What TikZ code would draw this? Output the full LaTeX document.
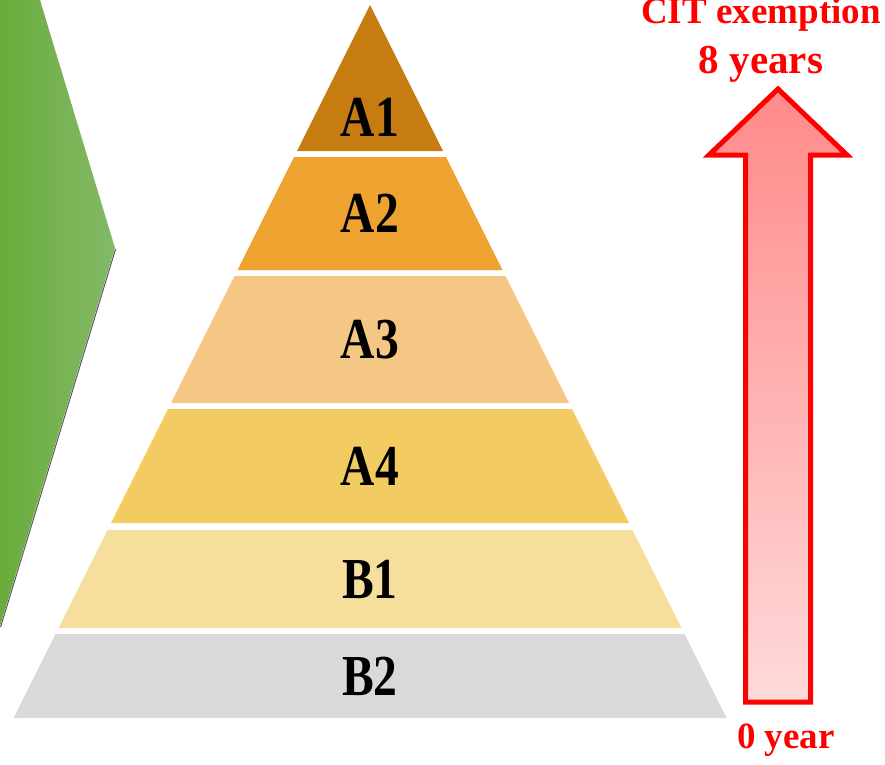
\documentclass[tikz,border=0pt]{standalone}
\usepackage{fontspec}
\setmainfont{Liberation Serif}
\usepackage{tikz}
\usepackage{xcolor}

\begin{document}
\begin{tikzpicture}[x=1pt,y=-1pt,
  layertext/.style={font=\bfseries\fontsize{58}{58}\selectfont,text=black,inner sep=0pt},
  redtext/.style={font=\bfseries\fontsize{#1}{#1}\selectfont,text=red,inner sep=0pt,anchor=base}]
\definecolor{amber}{HTML}{C77C11}
\definecolor{tangerine}{HTML}{EEA230}
\definecolor{apricot}{HTML}{F5C785}
\definecolor{mustard}{HTML}{F2CC60}
\definecolor{cream}{HTML}{F6DF9D}
\definecolor{silver}{HTML}{D9D9D9}
\definecolor{leafdark}{HTML}{69AC3B}
\definecolor{leaflight}{HTML}{84B968}
\definecolor{pinkdeep}{HTML}{FF8A8A}
\definecolor{pinkpale}{HTML}{FFDADA}
\useasboundingbox (0,0) rectangle (885,764);
% green chevron on the left
\shade[left color=leafdark,right color=leaflight] (0,0) -- (40,0) -- (115,248) -- (0,626) -- cycle;
\draw[black!65,line width=1pt] (115.6,249) -- (0.6,627);
% pyramid layers
  \foreach \crlr/\tp/\bt/\lbl/\ty in {amber/5/151/A1/117,tangerine/157/270/A2/213,apricot/276/403/A3/340,mustard/409/523/A4/466,cream/530/628/B1/579,silver/634/718/B2/676}
  {  \fill[\crlr] ({370-0.5*(\tp-5)},\tp) -- ({370+0.5*(\tp-5)},\tp) -- ({370+0.5*(\bt-5)},\bt) -- ({370-0.5*(\bt-5)},\bt) -- cycle;
     \node[layertext] (\lbl) at (370,\ty) {\scalebox{0.82}[1]{\lbl}};}
% arrow
\draw[red,line width=5pt,line join=miter,top color=pinkdeep,bottom color=pinkpale]
  (745.5,702) -- (745.5,155) -- (709,155) -- (778,89) -- (847,155) -- (810.5,155) -- (810.5,702) -- cycle;
\node[redtext=37] (cit) at (761,23) {CIT exemption};
\node[redtext=41] (eight) at (761,73) {8 years};
\node[redtext=37] (zero) at (786,748) {0 year};
\end{tikzpicture}
\end{document}
